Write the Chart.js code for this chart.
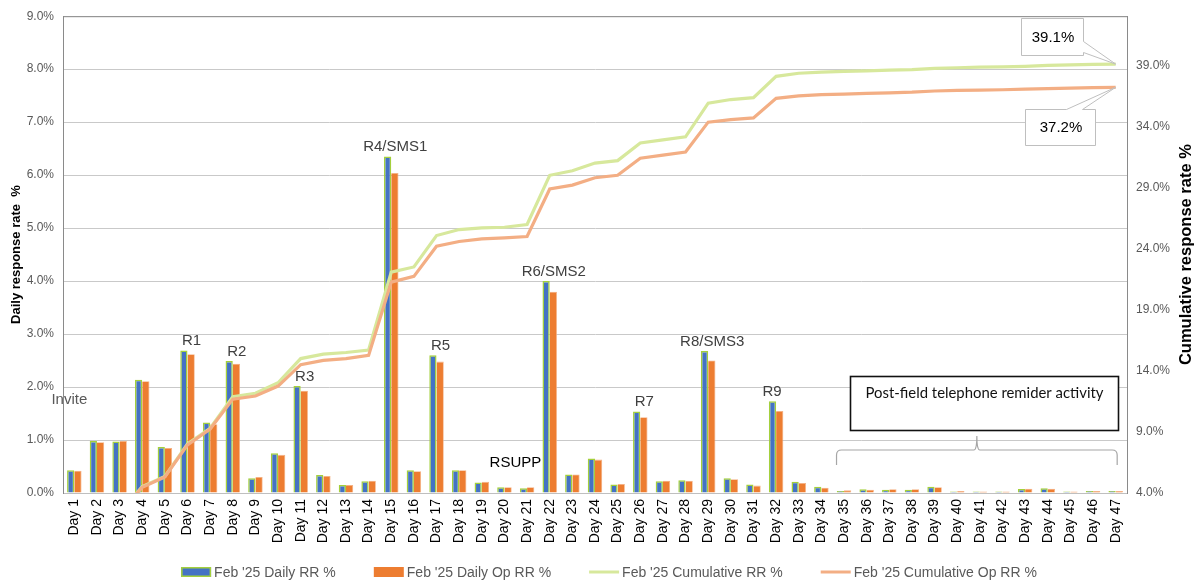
<!DOCTYPE html>
<html>
<head>
<meta charset="utf-8">
<script src="https://cdn.jsdelivr.net/npm/chart.js@4.4.1/dist/chart.umd.min.js"></script>
<style>
  html, body { margin: 0; padding: 0; background: #ffffff; }
  #wrap { position: relative; width: 1197px; height: 583px; }
</style>
</head>
<body>
<div id="wrap"><canvas id="c" width="1197" height="583"></canvas></div>
<script>
// ---- Fieldwork days ----
const days = ['Day 1','Day 2','Day 3','Day 4','Day 5','Day 6','Day 7','Day 8','Day 9','Day 10',
  'Day 11','Day 12','Day 13','Day 14','Day 15','Day 16','Day 17','Day 18','Day 19','Day 20',
  'Day 21','Day 22','Day 23','Day 24','Day 25','Day 26','Day 27','Day 28','Day 29','Day 30',
  'Day 31','Day 32','Day 33','Day 34','Day 35','Day 36','Day 37','Day 38','Day 39','Day 40',
  'Day 41','Day 42','Day 43','Day 44','Day 45','Day 46','Day 47'];

// ---- Daily response rates (%), left axis ----
const dailyRR = [0.43,0.98,0.97,2.14,0.87,2.69,1.33,2.49,0.28,0.75,
  2.02,0.34,0.15,0.22,6.35,0.43,2.60,0.43,0.20,0.11,
  0.09,4.00,0.35,0.65,0.16,1.54,0.22,0.24,2.68,0.28,
  0.16,1.73,0.21,0.12,0.04,0.07,0.06,0.06,0.12,0.03,
  0.03,0.03,0.075,0.09,0.03,0.04,0.04];
const dailyOpRR = [0.42,0.96,0.98,2.11,0.85,2.62,1.30,2.44,0.30,0.72,
  1.93,0.32,0.15,0.23,6.04,0.41,2.48,0.43,0.21,0.11,
  0.11,3.80,0.35,0.63,0.17,1.43,0.23,0.23,2.50,0.26,
  0.14,1.55,0.19,0.10,0.05,0.06,0.07,0.07,0.11,0.04,
  0.03,0.03,0.08,0.08,0.03,0.04,0.04];

// ---- Cumulative response rates (%), right axis ----
const cumRR = [0.43,1.41,2.38,4.52,5.35,8.02,9.30,11.88,12.16,13.02,
  15.0,15.36,15.5,15.7,22.07,22.5,25.07,25.56,25.7,25.75,
  25.97,30.0,30.37,31.0,31.2,32.65,32.9,33.15,35.9,36.2,
  36.35,38.1,38.35,38.45,38.5,38.55,38.6,38.65,38.75,38.8,
  38.85,38.88,38.92,39.0,39.03,39.07,39.1];
const cumOpRR = [0.42,1.38,2.36,4.47,5.32,7.94,9.24,11.68,11.94,12.75,
  14.5,14.85,15.0,15.26,21.26,21.73,24.2,24.58,24.8,24.88,
  24.99,28.88,29.2,29.8,30.0,31.4,31.65,31.9,34.35,34.55,
  34.7,36.3,36.5,36.6,36.65,36.7,36.75,36.8,36.9,36.95,
  36.97,37.0,37.05,37.1,37.13,37.17,37.2];

// ---- Axis ticks ----
const leftTicks = [0,1,2,3,4,5,6,7,8,9];
const rightTicks = [4,9,14,19,24,29,34,39];

// ---- Series names ----
const seriesNames = ["Feb '25 Daily RR %", "Feb '25 Daily Op RR %",
  "Feb '25 Cumulative RR %", "Feb '25 Cumulative Op RR %"];

// ---- Mail-out / reminder events ----
const eventLabels = ['Invite','R1','R2','R3','R4/SMS1','R5','RSUPP','R6/SMS2','R7','R8/SMS3','R9'];
const eventDays   = ['Day 1','Day 6','Day 8','Day 11','Day 15','Day 17','Day 20','Day 22','Day 26','Day 29','Day 32'];
const postFieldNote = 'Post-field telephone remider activity';
const postFieldFirstDay = 'Day 35';
const postFieldLastDay = 'Day 47';

const FONT = "'Liberation Sans', Arial, sans-serif";
const COLORS = {
  blue: '#4472c4', blueEdge: '#a4d03c', orange: '#ed7d31', orangeEdge: '#f4b183',
  green: '#d7e89c', peach: '#f3ae84', grid: '#c9c9c9', frame: '#8a8a8a'
};

const pct = v => Number(v).toFixed(1) + '%';

// Event label placement (pixel nudges, and free-floating anchors in left-axis %)
const eventStyle = {
  'Invite': { dx: -5, at: 1.75, color: '#595959' },
  'RSUPP':  { dx: 11, at: 0.56, color: '#000000' },
  'R9':     { dx: -4 },
  default:  { dx: 4, color: '#404040' }
};

const framePlugin = {
  id: 'frame',
  beforeDatasetsDraw(chart) {
    const { ctx, chartArea: a } = chart;
    ctx.save();
    ctx.strokeStyle = COLORS.frame;
    ctx.lineWidth = 1;
    ctx.beginPath();
    ctx.moveTo(a.left, a.top + 0.5);
    ctx.lineTo(a.right, a.top + 0.5);
    ctx.stroke();
    ctx.restore();
  }
};

const eventsPlugin = {
  id: 'events',
  afterDatasetsDraw(chart) {
    const { ctx } = chart;
    const xs = chart.scales.x, ys = chart.scales.y;
    ctx.save();
    ctx.font = '15px ' + FONT;
    ctx.textAlign = 'center';
    eventLabels.forEach((txt, k) => {
      const i = days.indexOf(eventDays[k]);
      const st = Object.assign({}, eventStyle.default, eventStyle[txt] || {});
      const x = xs.getPixelForValue(i) + st.dx;
      ctx.fillStyle = st.color;
      if (st.at !== undefined) {
        ctx.textBaseline = 'middle';
        ctx.fillText(txt, x, ys.getPixelForValue(st.at));
      } else {
        ctx.textBaseline = 'bottom';
        const top = ys.getPixelForValue(Math.max(dailyRR[i], dailyOpRR[i]));
        ctx.fillText(txt, x, top - 2);
      }
    });
    ctx.restore();
  }
};

const notePlugin = {
  id: 'note',
  afterDatasetsDraw(chart) {
    const { ctx } = chart;
    const xs = chart.scales.x;
    const x1 = xs.getPixelForValue(days.indexOf(postFieldFirstDay)) - 7.5;
    const x2 = xs.getPixelForValue(days.indexOf(postFieldLastDay)) + 1.5;
    const xm = (x1 + x2) / 2;
    const yb = 450, yEnd = 465, yTip = 436;
    ctx.save();
    // curly brace spanning the telephone follow-up days
    ctx.strokeStyle = '#a6a6a6';
    ctx.lineWidth = 1.2;
    ctx.beginPath();
    ctx.moveTo(x1, yEnd);
    ctx.lineTo(x1, yb + 5);
    ctx.quadraticCurveTo(x1, yb, x1 + 5, yb);
    ctx.lineTo(xm - 3, yb);
    ctx.quadraticCurveTo(xm, yb, xm, yTip);
    ctx.quadraticCurveTo(xm, yb, xm + 3, yb);
    ctx.lineTo(x2 - 5, yb);
    ctx.quadraticCurveTo(x2, yb, x2, yb + 5);
    ctx.lineTo(x2, yEnd);
    ctx.stroke();
    // text box above the brace
    const bx = 850.5, by = 376.5, bw = 268, bh = 54;
    ctx.fillStyle = '#ffffff';
    ctx.fillRect(bx, by, bw, bh);
    ctx.strokeStyle = '#111111';
    ctx.lineWidth = 1.6;
    ctx.strokeRect(bx, by, bw, bh);
    let size = 15;
    ctx.font = size + "px Lato, 'Open Sans', sans-serif";
    const w = ctx.measureText(postFieldNote).width;
    size = size * 238 / w;
    ctx.font = size.toFixed(2) + "px Lato, 'Open Sans', sans-serif";
    ctx.fillStyle = '#111111';
    ctx.textAlign = 'center';
    ctx.textBaseline = 'middle';
    ctx.fillText(postFieldNote, bx + bw / 2, 393);
    ctx.restore();
  }
};

const calloutPlugin = {
  id: 'callouts',
  afterDatasetsDraw(chart) {
    const { ctx } = chart;
    const xs = chart.scales.x, y2 = chart.scales.y2;
    const last = days.length - 1;
    const tipX = xs.getPixelForValue(last);
    const boxes = [
      { v: cumRR[last], x: 1021, y: 18, w: 62, h: 37, tail: 'right' },
      { v: cumOpRR[last], x: 1025, y: 109, w: 70, h: 36, tail: 'top' }
    ];
    ctx.save();
    ctx.lineWidth = 1;
    ctx.strokeStyle = '#bfbfbf';
    ctx.fillStyle = '#ffffff';
    boxes.forEach(b => {
      const tipY = y2.getPixelForValue(b.v);
      const L = b.x + 0.5, T = b.y + 0.5, R = b.x + b.w + 0.5, B = b.y + b.h + 0.5;
      ctx.beginPath();
      if (b.tail === 'right') {
        ctx.moveTo(L, T); ctx.lineTo(R, T); ctx.lineTo(R, T + 23);
        ctx.lineTo(tipX, tipY); ctx.lineTo(R, B - 3);
        ctx.lineTo(R, B); ctx.lineTo(L, B);
      } else {
        ctx.moveTo(L, T); ctx.lineTo(L + 41, T); ctx.lineTo(tipX, tipY);
        ctx.lineTo(L + 57, T); ctx.lineTo(R, T); ctx.lineTo(R, B); ctx.lineTo(L, B);
      }
      ctx.closePath();
      ctx.fill();
      ctx.stroke();
      ctx.fillStyle = '#000000';
      ctx.font = '15px ' + FONT;
      ctx.textAlign = 'center';
      ctx.textBaseline = 'middle';
      ctx.fillText(pct(b.v), b.x + b.w / 2 + 1, b.y + b.h / 2 + 1);
      ctx.fillStyle = '#ffffff';
    });
    ctx.restore();
  }
};

const sideTitlePlugin = {
  id: 'sideTitle',
  afterDraw(chart) {
    const { ctx, chartArea: a } = chart;
    ctx.save();
    ctx.translate(1186, (a.top + a.bottom) / 2);
    ctx.rotate(-Math.PI / 2);
    ctx.font = 'bold 16.5px ' + FONT;
    ctx.fillStyle = '#000000';
    ctx.textAlign = 'center';
    ctx.textBaseline = 'middle';
    ctx.fillText('Cumulative response rate %', 0, 0);
    ctx.restore();
  }
};

const legendPlugin = {
  id: 'bottomLegend',
  afterDraw(chart) {
    const { ctx } = chart;
    const ds = chart.data.datasets;
    const order = [0, 1, 2, 3];
    ctx.save();
    ctx.font = '14px ' + FONT;
    const sw = 30, gapText = 3, gapItem = 38, yc = 572;
    const widths = order.map(i => sw + gapText + ctx.measureText(ds[i].label).width);
    const total = widths.reduce((s, w) => s + w, 0) + gapItem * (order.length - 1);
    let x = 609 - total / 2;
    order.forEach((i, k) => {
      const d = ds[i];
      if (d.type === 'line') {
        ctx.strokeStyle = d.borderColor;
        ctx.lineWidth = 3;
        ctx.beginPath();
        ctx.moveTo(x, yc); ctx.lineTo(x + sw, yc);
        ctx.stroke();
      } else {
        ctx.fillStyle = d.backgroundColor;
        ctx.fillRect(x, yc - 5, sw, 10);
        if (d.legendEdge) {
          ctx.strokeStyle = d.legendEdge;
          ctx.lineWidth = 1.5;
          ctx.strokeRect(x + 0.75, yc - 5 + 0.75, sw - 1.5, 8.5);
        }
      }
      ctx.fillStyle = '#595959';
      ctx.textAlign = 'left';
      ctx.textBaseline = 'middle';
      ctx.fillText(d.label, x + sw + gapText, yc + 1);
      x += widths[k] + gapItem;
    });
    ctx.restore();
  }
};

Chart.defaults.font.family = FONT;

new Chart(document.getElementById('c'), {
  type: 'bar',
  data: {
    labels: days,
    datasets: [
      { type: 'bar', label: seriesNames[0], data: dailyRR, yAxisID: 'y',
        backgroundColor: COLORS.blue, borderColor: COLORS.blueEdge, legendEdge: COLORS.blueEdge,
        borderWidth: { top: 1.5, left: 1.5, right: 1.5, bottom: 0 }, order: 2 },
      { type: 'bar', label: seriesNames[1], data: dailyOpRR, yAxisID: 'y',
        backgroundColor: COLORS.orange, borderColor: COLORS.orangeEdge,
        borderWidth: { top: 0.8, left: 0, right: 0.8, bottom: 0 }, order: 3 },
      { type: 'line', label: seriesNames[2], data: cumRR, yAxisID: 'y2',
        borderColor: COLORS.green, backgroundColor: COLORS.green, borderWidth: 3.2,
        pointRadius: 0, tension: 0, fill: false, order: 1 },
      { type: 'line', label: seriesNames[3], data: cumOpRR, yAxisID: 'y2',
        borderColor: COLORS.peach, backgroundColor: COLORS.peach, borderWidth: 3.2,
        pointRadius: 0, tension: 0, fill: false, order: 0 }
    ]
  },
  options: {
    responsive: false,
    animation: false,
    devicePixelRatio: 1,
    layout: { padding: { top: 15, left: 0, right: 0, bottom: 0 } },
    datasets: { bar: { categoryPercentage: 0.64, barPercentage: 1.0, minBarLength: 1.5 } },
    plugins: { legend: { display: false }, tooltip: { enabled: false } },
    scales: {
      x: {
        grid: { display: false, drawTicks: false },
        border: { color: '#bfbfbf' },
        ticks: { autoSkip: false, minRotation: 90, maxRotation: 90, padding: 6,
                 color: '#000000', font: { size: 14 } },
        afterFit(s) { s.height = 90; }
      },
      y: {
        position: 'left', min: 0, max: 9,
        afterBuildTicks(s) { s.ticks = leftTicks.map(v => ({ value: v })); },
        ticks: { callback: v => pct(v), padding: 9, color: '#595959', font: { size: 12 } },
        grid: { color: COLORS.grid, drawTicks: false },
        border: { color: COLORS.frame },
        title: { display: true, text: 'Daily response rate  %', color: '#000000',
                 font: { size: 13, weight: 'bold' }, padding: { top: 9, bottom: 0 } },
        afterFit(s) { s.width = 63; }
      },
      y2: {
        position: 'right', min: 4, max: 43.02,
        afterBuildTicks(s) { s.ticks = rightTicks.map(v => ({ value: v })); },
        ticks: { callback: v => pct(v), padding: 9, color: '#595959', font: { size: 12 } },
        grid: { display: false, drawTicks: false },
        border: { color: COLORS.frame },
        afterFit(s) { s.width = 70; }
      }
    }
  },
  plugins: [framePlugin, eventsPlugin, notePlugin, calloutPlugin, sideTitlePlugin, legendPlugin]
});
</script>
</body>
</html>
